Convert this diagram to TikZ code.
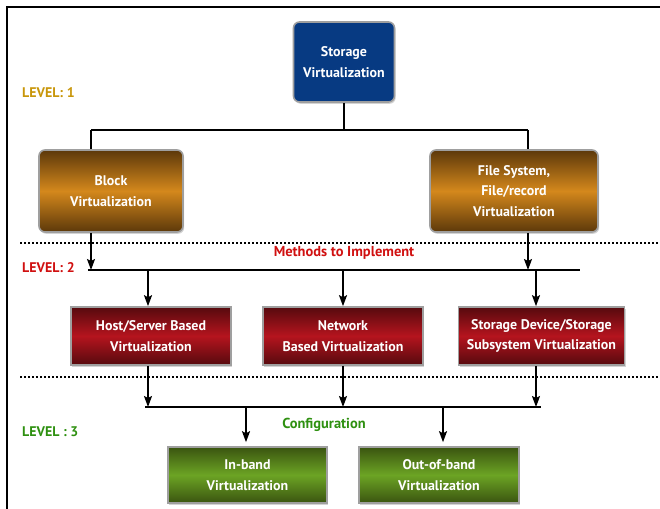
\documentclass[tikz,border=0pt]{standalone}
\usepackage{fontspec}
\setmainfont{PT Sans}
\usetikzlibrary{arrows.meta,shadows}
\definecolor{lvlone}{HTML}{C8960A}
\definecolor{lvltwo}{HTML}{D01010}
\definecolor{lvlthree}{HTML}{2E9010}
\definecolor{blueb}{HTML}{073A82}
\definecolor{orgmid}{HTML}{D4881C}
\definecolor{orgend}{HTML}{5C380A}
\definecolor{redmid}{HTML}{B5141E}
\definecolor{redend}{HTML}{560A0E}
\definecolor{grnmid}{HTML}{6CA424}
\definecolor{grnend}{HTML}{3A5410}
\tikzset{
  boxbase/.style={draw=gray!75, line width=1.6bp, text=white, align=center,
    font=\bfseries\fontsize{14}{20.5}\selectfont, inner sep=0pt,
    drop shadow={opacity=0.35, shadow xshift=1.2bp, shadow yshift=-1.8bp}},
  bluebox/.style={boxbase, fill=blueb, rounded corners=6bp},
  orgbox/.style={boxbase, rounded corners=6bp, top color=orgend, bottom color=orgend, middle color=orgmid},
  redbox/.style={boxbase, top color=redend, bottom color=redend, middle color=redmid},
  grnbox/.style={boxbase, top color=grnend, bottom color=grnend, middle color=grnmid},
  conn/.style={line width=1.6bp, black},
  arr/.style={conn, -{Stealth[length=11bp,width=8bp,inset=2bp]}},
  dotline/.style={line width=2bp, dash pattern=on 2bp off 2bp},
  lvl/.style={font=\bfseries\fontsize{14}{16}\selectfont, anchor=west, inner sep=0pt},
  midlbl/.style={font=\bfseries\fontsize{14.5}{16}\selectfont, inner sep=0pt}
}
\begin{document}
\begin{tikzpicture}[x=1bp,y=-1bp]
\useasboundingbox (0,0) rectangle (660,509);
% frame
\draw[line width=2.5bp] (7,509) -- (7,7) -- (660,7);

% nodes
\node[bluebox, minimum width=101bp, minimum height=80bp] (stor) at (344,62) {Storage\\Virtualization};
\node[orgbox, minimum width=144bp, minimum height=82bp] (block) at (111,191) {Block\\Virtualization};
\node[orgbox, minimum width=168bp, minimum height=82bp] (file) at (514,191) {File System,\\File/record\\Virtualization};
\node[redbox, minimum width=160bp, minimum height=58bp] (host) at (151,336) {Host/Server Based\\Virtualization};
\node[redbox, minimum width=160bp, minimum height=58bp] (net) at (343,336) {Network\\Based Virtualization};
\node[redbox, minimum width=166bp, minimum height=58bp] (dev) at (541.5,336) {Storage Device/Storage\\Subsystem Virtualization};
\node[grnbox, minimum width=159bp, minimum height=56bp] (inb) at (247.5,475) {In-band\\Virtualization};
\node[grnbox, minimum width=160bp, minimum height=56bp] (oob) at (439,475) {Out-of-band\\Virtualization};

% labels
\node[lvl, text=lvlone] (l1) at (22,93) {LEVEL: 1};
\node[lvl, text=lvltwo] (l2) at (22,268) {LEVEL: 2};
\node[lvl, text=lvlthree] (l3) at (22,432) {LEVEL : 3};
\node[midlbl, text=lvltwo] (meth) at (344,253) {Methods to Implement};
\node[midlbl, text=lvlthree] (conf) at (324,425) {Configuration};

% dotted separators
\coordinate (d1a) at (20,243); \coordinate (d1b) at (660,243);
\coordinate (d2a) at (20,377); \coordinate (d2b) at (660,377);
\draw[dotline] (d1a) -- (d1b);
\draw[dotline] (d2a) -- (d2b);

% level 1 connectors
\coordinate (h1L) at (91,130);
\coordinate (h1R) at (528,130);
\draw[conn] (stor.south) -- (stor.south |- h1L);
\draw[conn] (h1L) -- (h1R);
\draw[conn] (h1L) -- (h1L |- block.north);
\draw[conn] (h1R) -- (h1R |- file.north);

% level 2 bus
\coordinate (b2L) at (88,270);
\coordinate (b2R) at (580,270);
\draw[conn] (b2L) -- (b2R);
\draw[arr] (h1L |- block.south) -- (h1L |- b2L);
\draw[arr] (h1R |- file.south) -- (h1R |- b2L);
\coordinate (c1) at (148,270);
\coordinate (c2) at (343,270);
\coordinate (c3) at (536,270);
\draw[arr] (c1) -- (c1 |- host.north);
\draw[arr] (c2) -- (c2 |- net.north);
\draw[arr] (c3) -- (c3 |- dev.north);

% level 3 bus
\coordinate (b3L) at (145,407);
\coordinate (b3R) at (541,407);
\draw[conn] (b3L) -- (b3R);
\draw[arr] (c1 |- host.south) -- (c1 |- b3L);
\draw[arr] (c2 |- net.south) -- (c2 |- b3L);
\draw[arr] (c3 |- dev.south) -- (c3 |- b3L);
\coordinate (g1) at (246,407);
\coordinate (g2) at (443,407);
\draw[arr, shorten >=4bp] (g1) -- (g1 |- inb.north);
\draw[arr, shorten >=4bp] (g2) -- (g2 |- oob.north);
\end{tikzpicture}
\end{document}
